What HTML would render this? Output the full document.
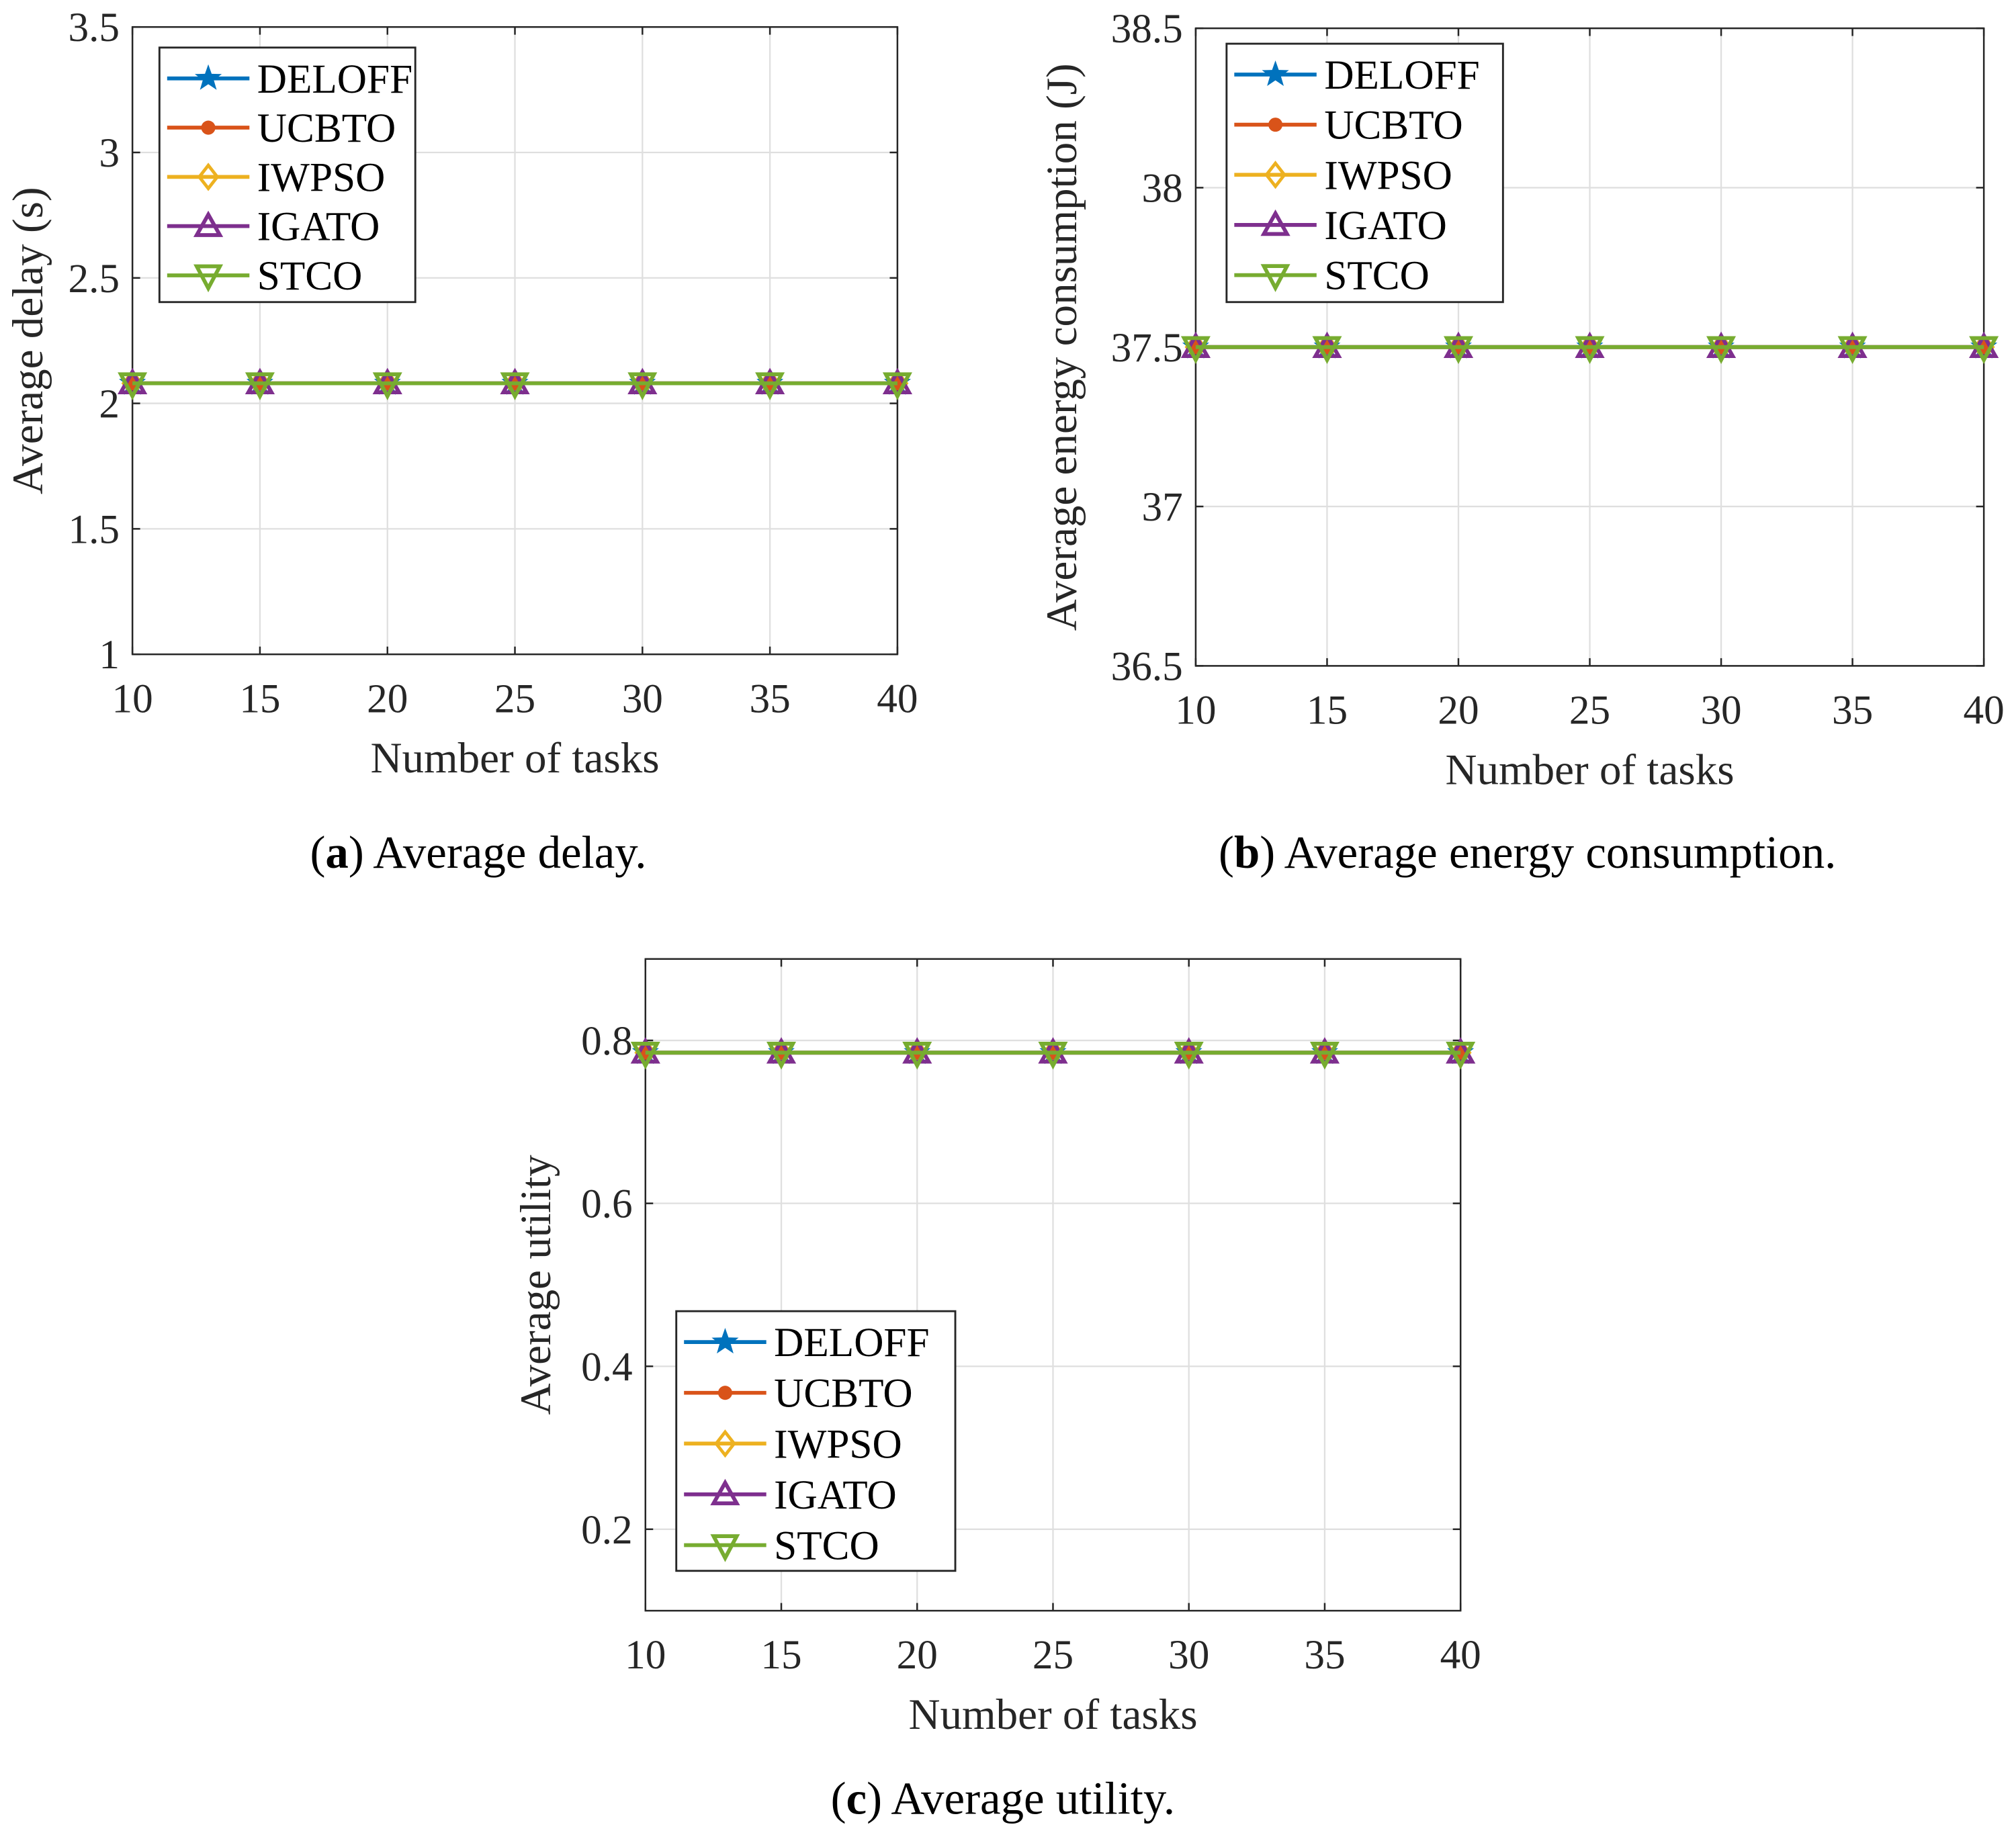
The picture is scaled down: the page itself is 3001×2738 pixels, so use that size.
<!DOCTYPE html>
<html><head><meta charset="utf-8"><style>
html,body{margin:0;padding:0;background:#fff;}
svg{display:block;font-family:"Liberation Serif",serif;}
</style></head><body>
<svg id="root" width="3001" height="2738" viewBox="0 0 1568 1430.6" xmlns="http://www.w3.org/2000/svg">
<rect width="1568" height="1430.6" fill="#fff"/>
</svg>
<script>
const xTicks=[10,15,20,25,30,35,40];
const seriesNames=["DELOFF","UCBTO","IWPSO","IGATO","STCO"];
const delayValues=[2.08,2.08,2.08,2.08,2.08,2.08,2.08];
const energyValues=[37.5,37.5,37.5,37.5,37.5,37.5,37.5];
const utilityValues=[0.785,0.785,0.785,0.785,0.785,0.785,0.785];
const delayTicks=[1,1.5,2,2.5,3,3.5];
const energyTicks=[36.5,37,37.5,38,38.5];
const utilityTicks=[0.2,0.4,0.6,0.8];

const colors=["#0072BD","#D95319","#EDB120","#7E2F8E","#77AC30"];
const markers=["star","asterisk","diamond","up","down"];
const NS="http://www.w3.org/2000/svg";
const root=document.getElementById('root');
function el(tag,attrs,parent){const e=document.createElementNS(NS,tag);for(const k in attrs)e.setAttribute(k,attrs[k]);(parent||root).appendChild(e);return e;}
function marker(type,cx,cy,color,g){
  let e;
  if(type==="star"){let p=[];for(let i=0;i<10;i++){const r=i%2?4.5:11,a=-Math.PI/2+i*Math.PI/5;p.push((cx+r*Math.cos(a)).toFixed(1)+","+(cy+r*Math.sin(a)).toFixed(1));}
    e=el('polygon',{points:p.join(' '),fill:color},g);}
  else if(type==="asterisk"){e=el('circle',{cx:cx,cy:cy,r:5.5,fill:color},g);}
  else if(type==="diamond"){e=el('polygon',{points:`${cx},${cy-9} ${cx+7},${cy} ${cx},${cy+9} ${cx-7},${cy}`,fill:"none",stroke:color,"stroke-width":2.5},g);}
  else if(type==="up"){e=el('polygon',{points:`${cx},${cy-9} ${cx+9},${cy+7} ${cx-9},${cy+7}`,fill:"none",stroke:color,"stroke-width":3},g);}
  else {e=el('polygon',{points:`${cx},${cy+10} ${cx+9},${cy-7} ${cx-9},${cy-7}`,fill:"none",stroke:color,"stroke-width":3},g);}
  
  
}
function chart(o){
  const g=el('g',{});
  
  
  const X=v=>o.x0+(v-10)/30*(o.x1-o.x0);
  const Y=v=>o.y1-(v-o.ymin)/(o.ymax-o.ymin)*(o.y1-o.y0);
  xTicks.forEach(t=>{const l=el('line',{x1:X(t),x2:X(t),y1:o.y0,y2:o.y1,stroke:"#dfdfdf","stroke-width":1.2},g);
    });
  o.ticks.forEach(t=>{const l=el('line',{x1:o.x0,x2:o.x1,y1:Y(t),y2:Y(t),stroke:"#dfdfdf","stroke-width":1.2},g);
    });
  const b=el('rect',{x:o.x0,y:o.y0,width:o.x1-o.x0,height:o.y1-o.y0,fill:"none",stroke:"#262626","stroke-width":1.3},g);
  
  xTicks.forEach(t=>{
    el('line',{x1:X(t),x2:X(t),y1:o.y1,y2:o.y1-6,stroke:"#262626","stroke-width":1.3},g);
    el('line',{x1:X(t),x2:X(t),y1:o.y0,y2:o.y0+6,stroke:"#262626","stroke-width":1.3},g);
    const tx=el('text',{x:X(t),y:o.y1+45,"text-anchor":"middle","font-size":32,fill:"#262626"},g);tx.textContent=t;
    
  });
  o.ticks.forEach(t=>{
    el('line',{x1:o.x0,x2:o.x0+6,y1:Y(t),y2:Y(t),stroke:"#262626","stroke-width":1.3},g);
    el('line',{x1:o.x1,x2:o.x1-6,y1:Y(t),y2:Y(t),stroke:"#262626","stroke-width":1.3},g);
    const tx=el('text',{x:o.x0-10,y:Y(t)+11,"text-anchor":"end","font-size":32,fill:"#262626"},g);tx.textContent=t;
    
  });
  const xt=el('text',{x:(o.x0+o.x1)/2,y:o.y1+92,"text-anchor":"middle","font-size":34,fill:"#262626"},g);xt.textContent="Number of tasks";
  
  const yt=el('text',{x:0,y:0,transform:`translate(${o.ytx},${(o.y0+o.y1)/2}) rotate(-90)`,"text-anchor":"middle","font-size":34,fill:"#262626"},g);yt.textContent=o.ytitle;
  
  seriesNames.forEach((n,si)=>{
    const pts=o.values.map((v,i)=>X(xTicks[i])+","+Y(v)).join(' ');
    const pl=el('polyline',{points:pts,fill:"none",stroke:colors[si],"stroke-width":3},g);
    
    o.values.forEach((v,i)=>marker(markers[si],X(xTicks[i]),Y(v),colors[si],g));
  });
  const lg=el('g',{},g);
  
  el('rect',{x:o.lx,y:o.ly,width:o.lw,height:o.lh,fill:"#fff",stroke:"#262626","stroke-width":1.5},lg);
  seriesNames.forEach((n,si)=>{
    const yy=o.ly+24+si*o.ls;
    const le=el('g',{},lg);
    
    el('line',{x1:o.lx+6,x2:o.lx+70,y1:yy,y2:yy,stroke:colors[si],"stroke-width":3},le);
    marker(markers[si],o.lx+38,yy,colors[si],le);
    const t=el('text',{x:o.lx+76,y:yy+11,"font-size":32,fill:"#000"},le);t.textContent=n;
  });
  const c=el('text',{x:o.cx,y:o.cy,"text-anchor":"middle","font-size":36,fill:"#000"},g);
  
  c.innerHTML=`(<tspan font-weight="bold">${o.letter}</tspan>) ${o.caption}`;
}
chart({name:'delay-chart',x0:103,x1:698,y0:21,y1:509,ymin:1,ymax:3.5,ticks:delayTicks,values:delayValues,
  ytitle:"Average delay (s)",ytx:33,lx:124,ly:37,lw:199,lh:198,ls:38.3,cx:372,cy:675,letter:"a",caption:"Average delay."});
chart({name:'energy-chart',x0:930,x1:1543,y0:22,y1:518,ymin:36.5,ymax:38.5,ticks:energyTicks,values:energyValues,
  ytitle:"Average energy consumption (J)",ytx:837,lx:954,ly:34,lw:215,lh:201,ls:39,cx:1188,cy:675,letter:"b",caption:"Average energy consumption."});
chart({name:'utility-chart',x0:502,x1:1136,y0:746,y1:1253,ymin:0.1,ymax:0.9,ticks:utilityTicks,values:utilityValues,
  ytitle:"Average utility",ytx:428,lx:526,ly:1020,lw:217,lh:202,ls:39.5,cx:780,cy:1411,letter:"c",caption:"Average utility."});
</script>
</body></html>
